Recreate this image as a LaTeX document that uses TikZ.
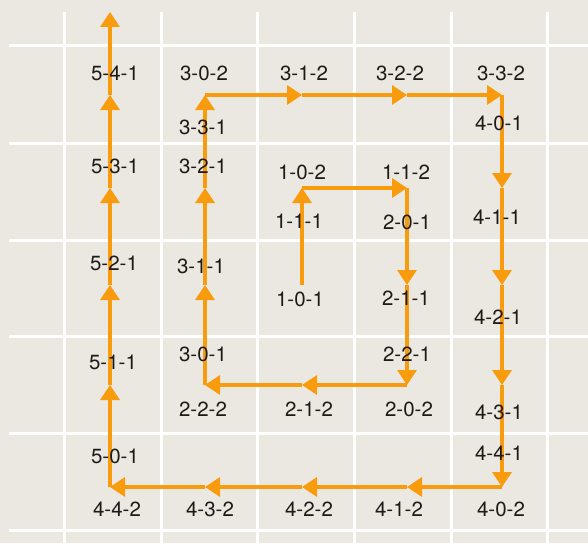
\documentclass[tikz,border=0pt]{standalone}
\usepackage{fontspec}
\setmainfont{TeX Gyre Heros}
\usepackage{tikz}
\usetikzlibrary{arrows.meta}
\definecolor{paper}{HTML}{EBE8E2}
\definecolor{route}{HTML}{F89C0E}
\definecolor{ink}{HTML}{1E1A18}
\tikzset{
	grid/.style={draw=white,line width=3pt},
	flow/.style={draw=route,line width=3.2pt,-{Triangle[width=19pt,length=15pt]}},
	lbl/.style={text=ink,font=\fontsize{20.5}{24}\selectfont,inner sep=0pt}
}

\begin{document}
\begin{tikzpicture}[x=1pt,y=-1pt]
	  \fill[paper] (0,0) rectangle (588,543);
	  \useasboundingbox (0,0) rectangle (588,543);
	      % grid
	      \foreach \gx in {64,161,257,354,451,547}{
	           \draw[grid] (\gx,12) -- (\gx,543);
	      }
	      \foreach \gy in {46,143,240,336,433,530}{
	           \draw[grid] (9,\gy) -- (588,\gy);
	      }
	      % points of the route
	      \foreach \c/\px in {0/110,1/205,2/302,3/407,4/502}{
	           \foreach \r/\py in {0/95,1/188,2/285,3/385,4/487}{
	                \coordinate (p\c\r) at (\px,\py);
	           }
	      }
	      \coordinate (top) at (110,12);
	      % route
	      \foreach \a/\b in {22/21,21/31,31/32,32/33,33/23,23/13,13/12,12/11,11/10,
	                         10/20,20/30,30/40,40/41,41/42,42/43,43/44,
	                         44/34,34/24,24/14,14/04,04/03,03/02,02/01,01/00}{
	           \draw[flow] (p\a) -- (p\b);
	      }
	      \draw[flow] (p00) -- (top);
	      % labels
	      \foreach \ten/\lx/\ly in {5-4-1/115/73,3-0-2/204/73,3-1-2/304/73,3-2-2/400/73,3-3-2/501/73,
	                     3-3-1/203/127,4-0-1/499/123,5-3-1/115/166,3-2-1/203/166,
	                     1-0-2/302/172,1-1-2/406/172,1-1-1/299/221,2-0-1/407/222,4-1-1/497/217,
	                     5-2-1/114/263,3-1-1/201/266,1-0-1/300/299,2-1-1/406/298,4-2-1/498/317,
	                     5-1-1/113/362,3-0-1/203/354,2-2-1/407/354,
	                     2-2-2/203/409,2-1-2/309/409,2-0-2/409/409,4-3-1/499/412,
	                     5-0-1/115/456,4-4-1/499/453,
	                     4-4-2/117/509,4-3-2/210/509,4-2-2/309/509,4-1-2/399/509,4-0-2/501/509}{
	           \node[lbl] (n\ten) at (\lx,\ly) {\ten};
	      }
	\end{tikzpicture}
\end{document}
